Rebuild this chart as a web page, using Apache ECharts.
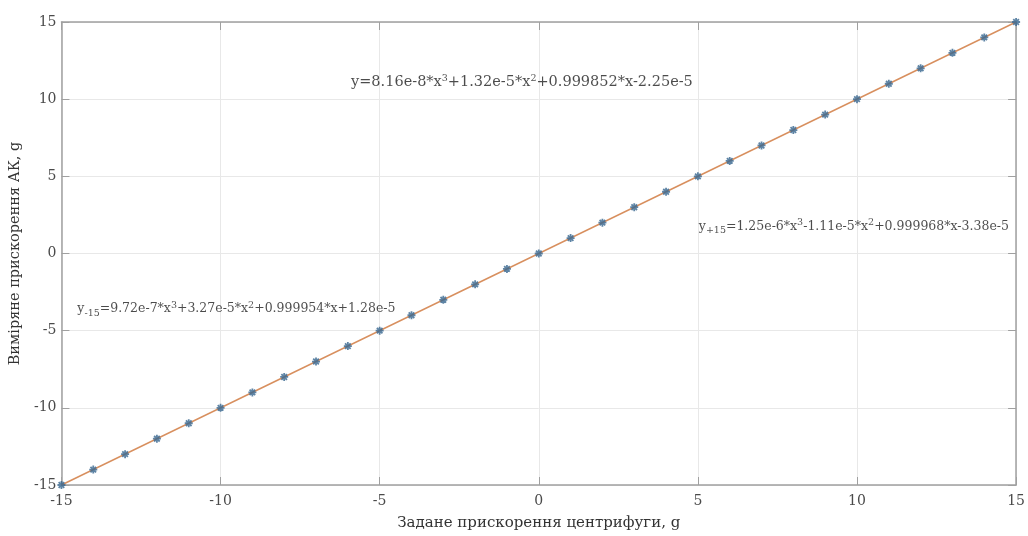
<!DOCTYPE html>
<html>
<head>
<meta charset="utf-8">
<script src="https://cdn.jsdelivr.net/npm/echarts@6/dist/echarts.min.js"></script>
<style>html,body{margin:0;padding:0;background:#fff}#c{width:1028px;height:536px}</style>
</head>
<body>
<div id="c"></div>
<script>
// Data
const setAccel = [-15,-14,-13,-12,-11,-10,-9,-8,-7,-6,-5,-4,-3,-2,-1,0,1,2,3,4,5,6,7,8,9,10,11,12,13,14,15];
const measuredAccel = [-15,-14,-13,-12,-11,-10,-9,-8,-7,-6,-5,-4,-3,-2,-1,0,1,2,3,4,5,6,7,8,9,10,11,12,13,14,15];
const fitLineX = [-15, 15];
const fitLineY = [-15, 15];
const xTicks = [-15, -10, -5, 0, 5, 10, 15];
const yTicks = [-15, -10, -5, 0, 5, 10, 15];
const xTitle = 'Задане прискорення центрифуги, g';
const yTitle = 'Виміряне прискорення АК, g';
// annotations: [x, y, rich text, style key]
const annotations = [
  [-5.9, 11.1, '{t|y=8.16e-8*x}{s|3}{t|+1.32e-5*x}{s|2}{t|+0.999852*x-2.25e-5}'],
  [5.03, 1.75, '{m|y}{b|+15}{m|=1.25e-6*x}{s|3}{m|-1.11e-5*x}{s|2}{m|+0.999968*x-3.38e-5}'],
  [-14.5, -3.6, '{m|y}{b|-15}{m|=9.72e-7*x}{s|3}{m|+3.27e-5*x}{s|2}{m|+0.999954*x+1.28e-5}']
];

const FONT = 'DejaVu Serif';
const asterisk = 'path://M0,-10L0,10M-10,0L10,0M-7,-7L7,7M-7,7L7,-7';

const chart = echarts.init(document.getElementById('c'), null, {renderer: 'canvas'});
const axisCommon = {
  type: 'value', min: -15, max: 15, interval: 5,
  axisLine: {show: true, onZero: false, lineStyle: {color: '#a0a0a0', width: 1.5}},
  axisTick: {show: true, inside: true, length: 8, lineStyle: {color: '#a0a0a0'}},
  splitLine: {show: false}
};
chart.setOption({
  animation: false,
  grid: {left: 57, right: 8, top: 22, bottom: 46, containLabel: false},
  xAxis: [
    Object.assign({}, axisCommon, {
      position: 'bottom',
      splitLine: {show: true, lineStyle: {color: '#e8e8e8', width: 1}},
      axisLabel: {color: '#4a4a4a', fontFamily: FONT, fontSize: 14, margin: 9,
        formatter: v => xTicks.includes(v) ? String(v) : ''},
      name: xTitle, nameLocation: 'middle', nameGap: 31,
      nameTextStyle: {color: '#333', fontFamily: FONT, fontSize: 15}
    }),
    Object.assign({}, axisCommon, {position: 'top', axisLabel: {show: false}})
  ],
  yAxis: [
    Object.assign({}, axisCommon, {
      position: 'left',
      splitLine: {show: true, lineStyle: {color: '#e8e8e8', width: 1}},
      axisLabel: {color: '#4a4a4a', fontFamily: FONT, fontSize: 14, margin: 5,
        formatter: v => yTicks.includes(v) ? String(v) : ''},
      name: yTitle, nameLocation: 'middle', nameGap: 27,
      nameTextStyle: {color: '#333', fontFamily: FONT, fontSize: 14.5}
    }),
    Object.assign({}, axisCommon, {position: 'right', axisLabel: {show: false}})
  ],
  series: [
    {
      type: 'line', xAxisIndex: 0, yAxisIndex: 0,
      data: fitLineX.map((x, i) => [x, fitLineY[i]]),
      showSymbol: false, symbol: 'none',
      lineStyle: {color: '#d88f5e', width: 1.4}, z: 2
    },
    {
      type: 'scatter', xAxisIndex: 0, yAxisIndex: 0,
      data: setAccel.map((x, i) => [x, measuredAccel[i]]),
      symbol: asterisk, symbolSize: 8,
      itemStyle: {color: 'rgba(0,0,0,0)', borderColor: '#36658f', borderWidth: 1.8}, z: 3
    },
    {
      type: 'scatter', xAxisIndex: 0, yAxisIndex: 0,
      data: annotations.map(a => ({value: [a[0], a[1]], label: {formatter: a[2]}})),
      symbolSize: 0, silent: true,
      label: {
        show: true, position: 'right', distance: 0,
        rich: {
          t: {fontFamily: FONT, fontSize: 14.5, color: '#1e1e1e', lineHeight: 18},
          m: {fontFamily: FONT, fontSize: 12.5, color: '#1e1e1e', lineHeight: 18},
          s: {fontFamily: FONT, fontSize: 9.5, color: '#1e1e1e', verticalAlign: 'top', padding: [0,0,6,0]},
          b: {fontFamily: FONT, fontSize: 9.5, color: '#1e1e1e', verticalAlign: 'bottom', padding: [6,0,0,0]}
        }
      }, z: 4
    }
  ]
});
</script>
</body>
</html>
